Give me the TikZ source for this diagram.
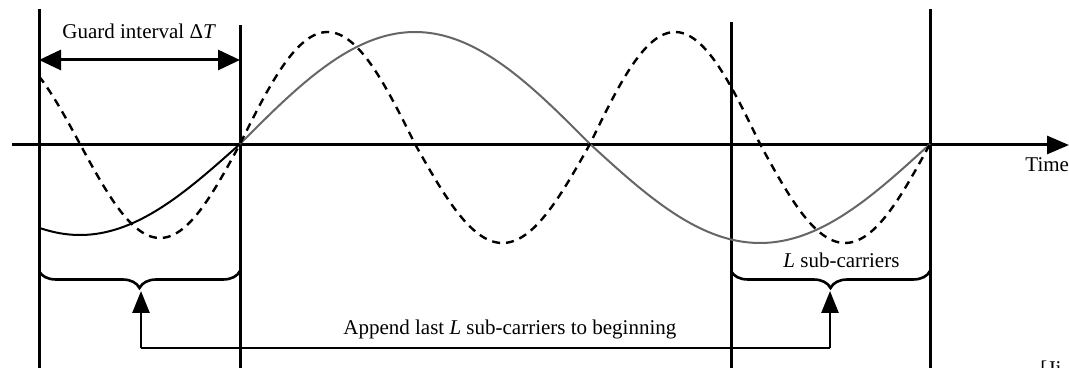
\documentclass[tikz,border=0pt]{standalone}
\usepackage{fontspec}
\setmainfont{Liberation Serif}
\usetikzlibrary{arrows.meta,decorations.pathreplacing}
\begin{document}
\begin{tikzpicture}[x=0.5pt,y=-0.5pt,
  declare function={amp(\s)=(\s>0)*112*\s+(\s<=0)*99*\s;},
  vline/.style={line width=1.5pt},
  axisline/.style={line width=1.5pt,-{Triangle[length=11pt,width=9pt]}},
  bigarrow/.style={line width=1.5pt,{Triangle[length=11pt,width=10pt]}-{Triangle[length=11pt,width=10pt]}},
  uparrow/.style={line width=1.3pt,-{Triangle[length=11pt,width=8.5pt]}},
  wave/.style={line width=1pt},
  dashwave/.style={line width=1.2pt, dash pattern=on 4pt off 3pt},
  bracestyle/.style={line width=1.3pt, decorate, decoration={brace,mirror,amplitude=8.5pt}},
  lbl/.style={font=\fontsize{10.5}{12}\selectfont, inner sep=0pt}
]
\useasboundingbox (0,0) rectangle (1069,368);

% coordinates
\coordinate (v1t) at (39,9);   \coordinate (v1b) at (39,368);
\coordinate (v2t) at (240,25); \coordinate (v2b) at (240,368);
\coordinate (v3t) at (731,22); \coordinate (v3b) at (731,368);
\coordinate (v4t) at (930,9);  \coordinate (v4b) at (930,368);
\coordinate (ax0) at (12,145); \coordinate (ax1) at (1069,145);
\coordinate (g0) at (39,60);   \coordinate (g1) at (240,60);
\coordinate (bl0) at (39,271); \coordinate (bl1) at (240,271);
\coordinate (br0) at (731,271); \coordinate (br1) at (930,271);
\coordinate (tipL) at (141,291); \coordinate (tipR) at (830,291);
\coordinate (hl) at (141,348);  \coordinate (hr) at (830,348);

% vertical lines
\draw[vline] (v1t) -- (v1b);
\draw[vline] (v2t) -- (v2b);
\draw[vline] (v3t) -- (v3b);
\draw[vline] (v4t) -- (v4b);

% axis
\draw[axisline] (ax0) -- (ax1);

% solid wave
\draw[wave, black] plot[smooth, samples=60, domain=39:240] (\x, {144+91*sin(0.5625*(240-\x))});
\draw[wave, black!60] plot[smooth, samples=80, domain=240:590] (\x, {144-112*sin(0.514286*(\x-240))})
  -- plot[smooth, samples=80, domain=590:930] (\x, {144+99*sin(0.529412*(\x-590))});

% dashed wave
\draw[dashwave] plot[smooth, samples=20, domain=39:80] (\x, {144-94*sin(1.125*(80-\x))})
  -- plot[smooth, samples=60, domain=80:240] (\x, {144+94*sin(1.125*(\x-80))})
  -- plot[smooth, samples=120, domain=240:590] (\x, {144-amp(sin(1.028571*(\x-240)))})
  -- plot[smooth, samples=120, domain=590:930] (\x, {144-amp(sin(1.058824*(\x-590)))});

% guard interval arrow
\draw[bigarrow] (g0) -- (g1);

% braces
\draw[bracestyle] (bl0) -- (bl1);
\draw[bracestyle] (br0) -- (br1);

% append arrows
\draw[line width=1.3pt] (hl) -- (hr);
\draw[uparrow] (hl) -- (tipL);
\draw[uparrow] (hr) -- (tipR);

% labels
\node[lbl, anchor=base west] (guard) at (62,39) {Guard interval Δ\textit{T}};
\node[lbl, anchor=base west] (time) at (1025,172) {Time};
\node[lbl, anchor=base west] (lsub) at (783,268) {\textit{L} sub-carriers};
\node[lbl, anchor=base west] (append) at (343,335) {Append last \textit{L} sub-carriers to beginning};
\node[lbl, anchor=base west] (ji) at (1040,375) {[Ji};
\end{tikzpicture}
\end{document}
